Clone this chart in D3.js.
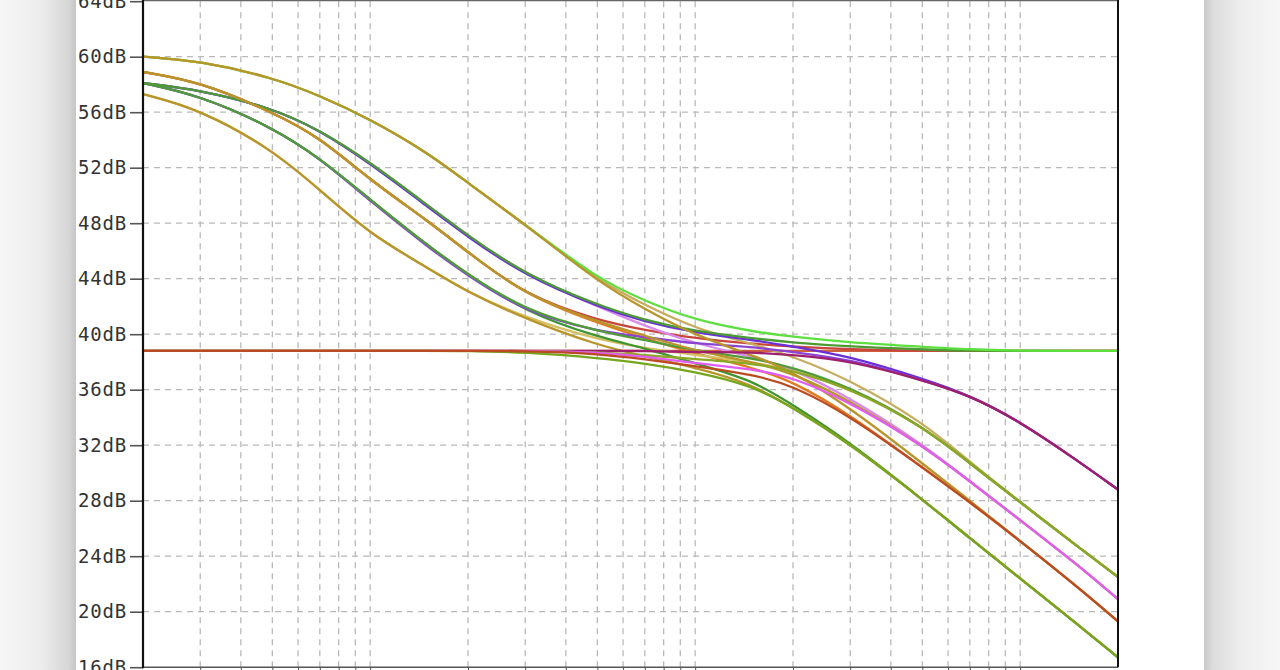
<!DOCTYPE html>
<html>
<head>
<meta charset="utf-8">
<script src="https://cdn.jsdelivr.net/npm/d3@7"></script>
<style>
  body { margin: 0; background: #fff; }
  #plot { width: 1280px; height: 670px; }
</style>
</head>
<body>
<div id="plot"></div>
<script>
// frequency points (Hz) the traces were read at
var freqHz = [20, 30, 50, 70, 100, 150, 200, 300, 500, 700, 1000, 1500, 2000, 3000, 5000, 7000, 10000, 15000, 20000];

// y axis tick labels (dB)
var dbTicks = [16, 20, 24, 28, 32, 36, 40, 44, 48, 52, 56, 60, 64];

// vertical grid lines (Hz)
var gridHz = [30, 40, 50, 60, 70, 80, 90, 100, 200, 300, 400, 500, 600, 700, 800, 900,
  1000, 2000, 3000, 4000, 5000, 6000, 7000, 8000, 9000, 10000];

// magnitude traces in dB, one value per freqHz entry
var flat0 = [38.8, 38.8, 38.8, 38.8, 38.8, 38.8, 38.8, 38.8, 38.8, 38.8, 38.8, 38.8, 38.8, 38.8, 38.8, 38.8, 38.8, 38.8, 38.8];
var flat1 = [38.8, 38.8, 38.8, 38.8, 38.8, 38.8, 38.8, 38.8, 38.8, 38.8, 38.7, 38.7, 38.5, 38.1, 36.7, 35.6, 33.7, 30.9, 28.8];
var flat2 = [38.8, 38.8, 38.8, 38.8, 38.8, 38.8, 38.8, 38.8, 38.7, 38.5, 38.2, 37.9, 37.4, 36.1, 33.4, 30.7, 27.9, 24.7, 22.5];
var flat3 = [38.8, 38.8, 38.8, 38.8, 38.8, 38.8, 38.8, 38.8, 38.7, 38.4, 37.9, 37.5, 36.9, 35.1, 32.0, 29.4, 26.6, 23.4, 20.9];
var flat4 = [38.8, 38.8, 38.8, 38.8, 38.8, 38.8, 38.8, 38.8, 38.6, 38.2, 37.7, 37.1, 36.3, 34.1, 30.4, 27.9, 25.1, 21.8, 19.3];
var flat5 = [38.8, 38.8, 38.8, 38.8, 38.8, 38.8, 38.8, 38.7, 38.3, 37.9, 37.3, 36.3, 34.7, 32.1, 28.1, 25.3, 22.4, 19.1, 16.7];

var a0 = [60.0, 59.7, 58.5, 57.2, 55.5, 53.1, 50.9, 47.9, 44.0, 42.4, 41.0, 40.2, 39.8, 39.4, 39.1, 38.9, 38.8, 38.8, 38.8];
var a2 = [60.0, 59.7, 58.5, 57.2, 55.5, 53.1, 50.9, 47.9, 43.9, 42.1, 40.4, 39.3, 38.4, 36.7, 33.7, 30.8, 27.9, 24.7, 22.5];
var a4 = [60.0, 59.7, 58.5, 57.2, 55.5, 53.1, 50.9, 47.9, 43.8, 41.8, 39.9, 38.5, 37.3, 34.7, 30.7, 28.0, 25.1, 21.8, 19.3];

var b0 = [58.9, 58.2, 56.0, 54.2, 51.1, 48.2, 45.9, 42.8, 41.0, 40.3, 39.7, 39.3, 39.1, 38.9, 38.8, 38.8, 38.8, 38.8, 38.8];
var b3 = [58.9, 58.2, 56.0, 54.2, 51.1, 48.2, 45.9, 42.8, 40.9, 39.9, 38.8, 38.0, 37.2, 35.2, 32.0, 29.4, 26.6, 23.4, 20.9];
var b4 = [58.9, 58.2, 56.0, 54.2, 51.1, 48.2, 45.9, 42.8, 40.8, 39.7, 38.6, 37.6, 36.6, 34.2, 30.4, 27.9, 25.1, 21.8, 19.3];

var cUp0 = [58.1, 57.6, 56.3, 54.7, 52.4, 49.3, 47.1, 44.3, 42.1, 41.0, 40.2, 39.7, 39.4, 39.1, 38.9, 38.8, 38.8, 38.8, 38.8];
var cUp1 = [58.1, 57.6, 56.3, 54.7, 52.3, 49.2, 47.0, 44.2, 42.0, 40.9, 40.1, 39.6, 39.1, 38.4, 36.8, 35.6, 33.7, 30.9, 28.8];
var cUp3 = [58.1, 57.6, 56.3, 54.7, 52.4, 49.3, 47.1, 44.3, 42.0, 40.6, 39.3, 38.4, 37.5, 35.4, 32.1, 29.4, 26.6, 23.4, 20.9];

var cLow1 = [58.1, 57.2, 54.9, 52.7, 49.6, 46.3, 44.2, 41.6, 40.2, 39.8, 39.3, 39.1, 38.7, 38.2, 36.7, 35.6, 33.7, 30.9, 28.8];
var cLow2 = [58.1, 57.2, 54.9, 52.7, 49.7, 46.4, 44.3, 41.7, 40.2, 39.6, 38.8, 38.3, 37.6, 36.2, 33.4, 30.7, 27.9, 24.7, 22.5];
var cLow5 = [58.1, 57.2, 54.9, 52.7, 49.7, 46.4, 44.3, 41.6, 39.8, 39.0, 37.9, 36.7, 34.9, 32.2, 28.1, 25.3, 22.4, 19.1, 16.7];

var d2 = [57.3, 56.2, 53.3, 50.4, 47.2, 44.8, 43.0, 41.2, 39.6, 39.0, 38.5, 38.0, 37.4, 36.1, 33.4, 30.7, 27.9, 24.7, 22.5];
var d5 = [57.3, 56.2, 53.3, 50.4, 47.2, 44.8, 43.0, 41.1, 39.2, 38.4, 37.6, 36.4, 34.7, 32.1, 28.1, 25.3, 22.4, 19.1, 16.7];

// draw order and trace colours (later ones sit on top)
var traces = [
  { values: flat0, color: "#d0603c" },
  { values: b0, color: "#c9463c" },
  { values: cUp3, color: "#d98aec" },
  { values: b4, color: "#e07b1f" },
  { values: d2, color: "#d4bf63" },
  { values: cLow5, color: "#3f9630" },
  { values: a2, color: "#c8ad60" },
  { values: cUp1, color: "#6a2fd6" },
  { values: cLow1, color: "#8b43d6" },
  { values: cUp0, color: "#4b9a35" },
  { values: cLow2, color: "#4f9b3a" },
  { values: a0, color: "#5de03f" },
  { values: a4, color: "#b8952a" },
  { values: b3, color: "#b8952a" },
  { values: d5, color: "#b8952a" },
  { values: flat1, color: "#9e1f6c" },
  { values: flat2, color: "#8ca725" },
  { values: flat3, color: "#e25cf3" },
  { values: flat5, color: "#76a51e" },
  { values: flat4, color: "#bb4b22" }
];

var svgWidth = 1280;
var svgHeight = 670;

// plot frame
var plotLeft = 143;
var plotRight = 1118;
var plotTop = 1.2;
var plotBottom = 667.2;

var svg = d3.select("#plot")
  .append("svg")
  .attr("width", svgWidth)
  .attr("height", svgHeight);

// page shadows on both sides of the white card
var defs = svg.append("defs");

var leftShade = defs.append("linearGradient").attr("id", "leftShade");
leftShade.append("stop").attr("offset", "0").attr("stop-color", "#f7f7f7");
leftShade.append("stop").attr("offset", "0.55").attr("stop-color", "#ececec");
leftShade.append("stop").attr("offset", "0.9").attr("stop-color", "#d6d6d6");
leftShade.append("stop").attr("offset", "1").attr("stop-color", "#c6c6c6");

var rightShade = defs.append("linearGradient").attr("id", "rightShade");
rightShade.append("stop").attr("offset", "0").attr("stop-color", "#c9c9c9");
rightShade.append("stop").attr("offset", "0.12").attr("stop-color", "#dcdcdc");
rightShade.append("stop").attr("offset", "0.5").attr("stop-color", "#eeeeee");
rightShade.append("stop").attr("offset", "1").attr("stop-color", "#f7f7f7");

defs.append("clipPath").attr("id", "plotClip")
  .append("rect")
  .attr("x", plotLeft)
  .attr("y", plotTop - 1)
  .attr("width", plotRight - plotLeft)
  .attr("height", plotBottom - plotTop + 1);

svg.append("rect").attr("x", 0).attr("y", 0).attr("width", 76).attr("height", svgHeight)
  .attr("fill", "url(#leftShade)");
svg.append("rect").attr("x", 1204).attr("y", 0).attr("width", 76).attr("height", svgHeight)
  .attr("fill", "url(#rightShade)");

// scales
var xLogScale = d3.scaleLog()
  .domain([20, 20000])
  .range([plotLeft, plotRight]);

var yLinearScale = d3.scaleLinear()
  .domain([16, 64])
  .range([plotBottom, plotTop]);

// dashed grid
var gridGroup = svg.append("g")
  .attr("stroke", "#b9b9b9")
  .attr("stroke-width", 1.3)
  .attr("stroke-dasharray", "6,5");

gridGroup.selectAll(".vgrid")
  .data(gridHz)
  .enter()
  .append("line")
  .attr("class", "vgrid")
  .attr("x1", d => xLogScale(d))
  .attr("x2", d => xLogScale(d))
  .attr("y1", plotTop)
  .attr("y2", plotBottom);

gridGroup.selectAll(".hgrid")
  .data(dbTicks.filter(d => d > 16 && d < 64))
  .enter()
  .append("line")
  .attr("class", "hgrid")
  .attr("x1", plotLeft)
  .attr("x2", plotRight)
  .attr("y1", d => yLinearScale(d))
  .attr("y2", d => yLinearScale(d));

// traces, smoothed between the read points
var line = d3.line()
  .x((d, i) => xLogScale(freqHz[i]))
  .y(d => yLinearScale(d))
  .curve(d3.curveBasis);

svg.append("g")
  .attr("clip-path", "url(#plotClip)")
  .selectAll("path")
  .data(traces)
  .enter()
  .append("path")
  .attr("d", d => line(d.values))
  .attr("fill", "none")
  .attr("stroke", d => d.color)
  .attr("stroke-width", 2.3)
  .attr("stroke-linejoin", "round");

// frame
svg.append("line").attr("x1", plotLeft).attr("x2", plotRight).attr("y1", 0.5).attr("y2", 0.5)
  .attr("stroke", "#666").attr("stroke-width", 1.5);
svg.append("line").attr("x1", plotLeft).attr("x2", plotRight).attr("y1", plotBottom).attr("y2", plotBottom)
  .attr("stroke", "#555").attr("stroke-width", 1.5);
svg.append("line").attr("x1", plotRight).attr("x2", plotRight).attr("y1", 0).attr("y2", plotBottom)
  .attr("stroke", "#111").attr("stroke-width", 2);

// bottom axis: small ticks only
var bottomAxis = d3.axisBottom(xLogScale)
  .tickValues(gridHz)
  .tickSize(4)
  .tickFormat("");

svg.append("g")
  .attr("transform", `translate(0, ${plotBottom})`)
  .call(bottomAxis)
  .call(g => g.select(".domain").remove())
  .call(g => g.selectAll("line").attr("stroke", "#555"));

// left axis with dB labels
var leftAxis = d3.axisLeft(yLinearScale)
  .tickValues(dbTicks)
  .tickSize(13)
  .tickPadding(3)
  .tickFormat(d => d + "dB");

var yAxisGroup = svg.append("g")
  .attr("transform", `translate(${plotLeft}, 0)`)
  .call(leftAxis);

yAxisGroup.select(".domain").remove();
yAxisGroup.selectAll("line").attr("stroke", "#555").attr("stroke-width", 1.6);
yAxisGroup.selectAll("text")
  .attr("fill", "#333")
  .attr("font-family", "DejaVu Sans Mono, monospace")
  .attr("font-size", "19px")
  .attr("letter-spacing", "0.8px");

svg.append("line").attr("x1", plotLeft).attr("x2", plotLeft).attr("y1", 0).attr("y2", plotBottom + 1)
  .attr("stroke", "#111").attr("stroke-width", 2.2);
</script>
</body>
</html>
